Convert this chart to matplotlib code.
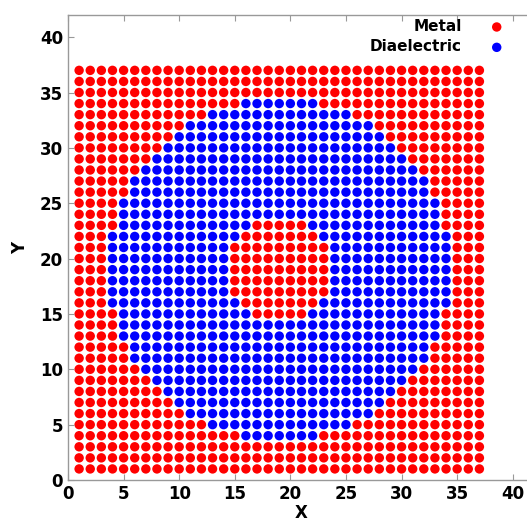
import matplotlib
matplotlib.use("Agg")
import matplotlib.pyplot as plt
import numpy as np

# lattice of cells, 1..37 in both directions
grid_x = np.arange(1, 38)
grid_y = np.arange(1, 38)

# ring geometry: dielectric annulus between two circles around the centre
centre = (19, 19)
outer_radius = 15.4
inner_radius = 4.5

tick_vals = [0, 5, 10, 15, 20, 25, 30, 35, 40]
labels = ["Metal", "Diaelectric"]
colors = ["#ff0000", "#0000ff"]

xx, yy = np.meshgrid(grid_x, grid_y)
r2 = (xx - centre[0]) ** 2 + (yy - centre[1]) ** 2
dielectric = (r2 <= outer_radius ** 2) & (r2 > inner_radius ** 2)

fig = plt.figure(figsize=(5.27, 5.22), dpi=100)
ax = fig.add_axes([68 / 527, 42 / 522, 467 / 527, 465 / 522])

ax.scatter(xx[~dielectric], yy[~dielectric], s=46, color=colors[0],
           edgecolors="none", label=labels[0])
ax.scatter(xx[dielectric], yy[dielectric], s=46, color=colors[1],
           edgecolors="none", label=labels[1])

ax.set_xlim(0, 42)
ax.set_ylim(0, 42)
ax.set_xticks(tick_vals)
ax.set_yticks(tick_vals)
ax.tick_params(direction="in", top=True, right=True, length=4,
               color="#999999", labelsize=12)
for lab in ax.get_xticklabels() + ax.get_yticklabels():
    lab.set_fontweight("bold")
for sp in ax.spines.values():
    sp.set_color("#999999")
    sp.set_linewidth(1.0)

ax.set_xlabel("X", fontsize=12, fontweight="bold", labelpad=1)
ax.set_ylabel("Y", fontsize=12, fontweight="bold", labelpad=8)

leg = ax.legend(loc="upper right", markerfirst=False, frameon=False,
                bbox_to_anchor=(512 / 527, 1 - 19 / 522),
                bbox_transform=fig.transFigure, borderaxespad=0,
                borderpad=0, handletextpad=1.3, labelspacing=0.35,
                prop={"weight": "bold", "size": 11}, scatterpoints=1)
for t in leg.get_texts():
    t.set_ha("right")

fig.savefig("out.png", dpi=100)
